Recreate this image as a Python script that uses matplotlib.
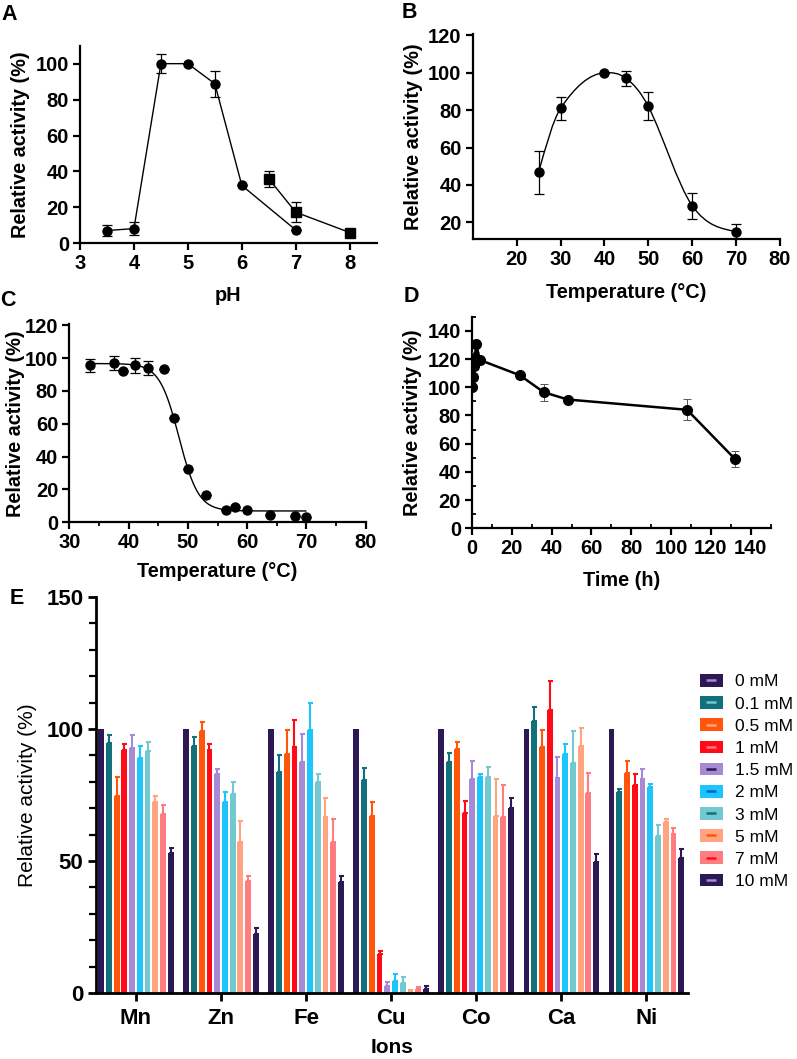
import numpy as np
import matplotlib
matplotlib.use("Agg")
import matplotlib.pyplot as plt
from matplotlib.path import Path
from matplotlib.patches import PathPatch, Patch
from matplotlib.lines import Line2D
from matplotlib.legend_handler import HandlerTuple
from matplotlib.ticker import MultipleLocator

plt.rcParams['font.family'] = ['Liberation Sans', 'DejaVu Sans']

# ---------------- Data ----------------
# Panel A: pH profile
ph_circ = [3.5, 4.0, 4.5, 5.0, 5.5, 6.0, 7.0]
act_circ = [7.1, 8.2, 100, 100, 88.8, 32.2, 7.4]
err_circ = [3.3, 3.4, 5.3, 0, 7.3, 0, 0]
ph_sq = [6.5, 7.0, 8.0]
act_sq = [35.9, 17.3, 6.0]
err_sq = [4.5, 5.6, 0]

# Panel B: temperature optimum
temp_b = [25, 30, 40, 45, 50, 60, 70]
act_b = [46.8, 80.9, 100, 97.0, 82.0, 28.9, 15.0]
err_b = [11.6, 6.2, 0, 4.1, 7.5, 7.0, 4.1]

# Panel C: thermal stability
temp_c = [33.5, 37.6, 39.1, 41.0, 43.3, 45.9, 47.6, 50.0, 53.1, 56.4, 58.0, 60.0, 63.8, 68.0, 69.9]
act_c = [95.6, 97.0, 92.1, 95.6, 94.0, 93.6, 63.7, 32.5, 16.7, 7.5, 9.2, 7.3, 4.5, 3.9, 3.3]
err_c = [4.0, 4.0, 0, 4.5, 4.5, 0, 0, 0, 0, 0, 0, 0, 0, 0, 0]
fit_top, fit_bottom, fit_v50, fit_slope = 96.7, 6.9, 48.5, 1.64

# Panel D: stability over time
time_d = [0, 0.5, 1, 1.5, 2, 4, 24, 36, 48, 108, 132]
act_d = [100, 107.3, 115, 121, 130.5, 119.3, 108.5, 96.5, 91.3, 84.0, 49.2]
err_d = [0, 3, 3, 4, 0, 0, 2.3, 6.0, 0, 7.4, 5.4]

# Panel E: metal ions
ions = ['Mn', 'Zn', 'Fe', 'Cu', 'Co', 'Ca', 'Ni']
conc_labels = ['0 mM', '0.1 mM', '0.5 mM', '1 mM', '1.5 mM', '2 mM', '3 mM', '5 mM', '7 mM', '10 mM']
mn = [100, 94.8, 74.6, 92.0, 92.9, 89.0, 91.5, 72.5, 67.7, 53.1]
zn = [100, 93.5, 99.3, 91.9, 82.8, 72.3, 75.2, 57.1, 42.3, 22.3]
fe = [100, 83.9, 90.4, 93.3, 87.5, 99.6, 79.9, 66.7, 57.1, 41.9]
cu = [100, 80.5, 67.0, 14.7, 2.7, 4.7, 3.9, 0.6, 1.6, 1.4]
co = [100, 87.5, 92.3, 68.0, 80.9, 81.8, 82.0, 67.2, 66.6, 70.1]
ca = [100, 103.2, 93.0, 107.2, 81.4, 90.6, 87.0, 93.4, 75.6, 49.5]
ni = [100, 76.2, 83.4, 78.7, 80.9, 78.1, 59.6, 64.7, 60.3, 51.0]
mn_err = [0, 2.9, 7.3, 2.3, 5.0, 4.5, 3.5, 2.2, 3.7, 1.9]
zn_err = [0, 3.5, 3.5, 2.3, 1.9, 3.9, 4.7, 8.0, 1.9, 2.5]
fe_err = [0, 6.1, 9.2, 10.1, 10.6, 10.2, 3.2, 7.2, 8.8, 2.5]
cu_err = [0, 4.6, 5.3, 1.3, 1.3, 2.4, 2.0, 0.5, 0.8, 1.4]
co_err = [0, 3.5, 2.9, 4.7, 7.1, 1.0, 3.7, 14.0, 12.0, 3.7]
ca_err = [0, 5.3, 6.6, 10.8, 8.1, 3.8, 12.4, 7.0, 7.6, 3.2]
ni_err = [0, 1.2, 4.6, 4.1, 3.9, 1.2, 4.1, 1.3, 2.3, 3.4]

bar_colors = ['#2c1852', '#12707a', '#ff560c', '#ff0a16', '#a68ad6',
              '#1cc6fc', '#72c9d0', '#ffa47e', '#ff7c80', '#2c1852']
dash_colors = ['#a68ad6', '#72c9d0', '#ffa47e', '#ff7c80', '#2c1852',
               '#1060d0', '#12707a', '#ff560c', '#ff0a16', '#a68ad6']

# ---------------- Figure ----------------
fig = plt.figure(figsize=(7.97, 10.59), dpi=100)
W, H = 797.0, 1059.0

def ax_at(x0, y0, x1, y1):
    return fig.add_axes([x0 / W, 1 - y1 / H, (x1 - x0) / W, (y1 - y0) / H])

TICK_FS = 14.5
LAB_FS = 14.3

def style(ax, lw=1.6):
    for s in ['top', 'right']:
        ax.spines[s].set_visible(False)
    for s in ['left', 'bottom']:
        ax.spines[s].set_linewidth(lw)
    ax.tick_params(which='major', width=lw, length=5, labelsize=TICK_FS, pad=3)
    ax.tick_params(which='minor', width=lw * 0.8, length=3)
    for t in ax.get_xticklabels() + ax.get_yticklabels():
        t.set_fontweight('bold')

def errplot(ax, x, y, e, **kw):
    ax.errorbar(x, y, yerr=e, fmt='o', color='black', ms=6.5, capsize=3.5,
                elinewidth=0.9, capthick=0.9, zorder=3, **kw)

# ---- Panel A ----
axA = ax_at(80, 45.7, 376.7, 243.3)
axA.plot(ph_circ, act_circ, color='black', lw=1.0)
axA.plot(ph_sq, act_sq, color='black', lw=1.0)
errplot(axA, ph_circ, act_circ, err_circ)
axA.errorbar(ph_sq, act_sq, yerr=err_sq, fmt='s', color='black', ms=6.5, capsize=3.5,
             elinewidth=0.9, capthick=0.9, zorder=3)
axA.set_xlim(3, 8.5)
axA.set_ylim(0, 110)
axA.set_xticks([3, 4, 5, 6, 7, 8])
axA.set_yticks([0, 20, 40, 60, 80, 100])
style(axA)
axA.set_ylabel('Relative activity (%)', fontsize=LAB_FS, fontweight='bold', labelpad=4)
axA.set_xlabel('pH', fontsize=LAB_FS, fontweight='bold', labelpad=9)

# ---- Panel B ----
axB = ax_at(472.7, 34.3, 780, 239.3)
xb = np.array(temp_b, float)
yb = np.array(act_b, float)
n = len(xb)
m = np.zeros(n)
for i in range(n):
    if i == 0:
        m[i] = (yb[1] - yb[0]) / (xb[1] - xb[0]) * 1.2
    elif i == n - 1:
        m[i] = (yb[-1] - yb[-2]) / (xb[-1] - xb[-2]) * 0.35
    else:
        m[i] = (yb[i + 1] - yb[i - 1]) / (xb[i + 1] - xb[i - 1])
m[2] = 0.15
verts = [(xb[0], yb[0])]
codes = [Path.MOVETO]
for i in range(n - 1):
    h = xb[i + 1] - xb[i]
    verts += [(xb[i] + h / 3, yb[i] + m[i] * h / 3),
              (xb[i + 1] - h / 3, yb[i + 1] - m[i + 1] * h / 3),
              (xb[i + 1], yb[i + 1])]
    codes += [Path.CURVE4] * 3
axB.add_patch(PathPatch(Path(verts, codes), facecolor='none', edgecolor='black', lw=1.0))
errplot(axB, temp_b, act_b, err_b)
axB.set_xlim(10, 80)
axB.set_ylim(10.9, 120.6)
axB.set_xticks([20, 30, 40, 50, 60, 70, 80])
axB.set_yticks([20, 40, 60, 80, 100, 120])
style(axB)
axB.set_ylabel('Relative activity (%)', fontsize=LAB_FS, fontweight='bold', labelpad=4)
axB.set_xlabel('Temperature (°C)', fontsize=LAB_FS, fontweight='bold', labelpad=10)

# ---- Panel C ----
axC = ax_at(69.3, 324.3, 365.7, 522.3)
xc = np.linspace(temp_c[0], temp_c[-1], 300)
yc = fit_bottom + (fit_top - fit_bottom) / (1 + np.exp((xc - fit_v50) / fit_slope))
axC.plot(xc, yc, color='black', lw=1.0)
errplot(axC, temp_c, act_c, err_c)
axC.set_xlim(30, 80)
axC.set_ylim(0, 120.6)
axC.set_xticks([30, 40, 50, 60, 70, 80])
axC.xaxis.set_minor_locator(MultipleLocator(5))
axC.set_yticks([0, 20, 40, 60, 80, 100, 120])
style(axC)
axC.set_ylabel('Relative activity (%)', fontsize=LAB_FS, fontweight='bold', labelpad=0)
axC.set_xlabel('Temperature (°C)', fontsize=LAB_FS, fontweight='bold', labelpad=7)

# ---- Panel D ----
axD = ax_at(472, 316.7, 770.7, 528.3)
axD.errorbar(time_d, act_d, yerr=err_d, fmt='-o', color='black', ms=7, lw=1.8,
             capsize=3, elinewidth=0.7, capthick=0.7, ecolor='#555555', zorder=3)
axD.set_xlim(0, 150)
axD.set_ylim(0, 150)
axD.set_xticks([0, 20, 40, 60, 80, 100, 120, 140])
axD.set_yticks([0, 20, 40, 60, 80, 100, 120, 140])
axD.xaxis.set_minor_locator(MultipleLocator(10))
axD.yaxis.set_minor_locator(MultipleLocator(10))
style(axD)
axD.tick_params(which='minor', direction='in')
axD.set_ylabel('Relative activity (%)', fontsize=LAB_FS, fontweight='bold', labelpad=4)
axD.set_xlabel('Time (h)', fontsize=LAB_FS, fontweight='bold', labelpad=9)

# ---- Panel E ----
axE = ax_at(96, 597, 688, 993)
vals = [mn, zn, fe, cu, co, ca, ni]
errs = [mn_err, zn_err, fe_err, cu_err, co_err, ca_err, ni_err]
step = 0.091
bw = 0.068
xg = np.arange(len(ions))
for j, lab in enumerate(conc_labels):
    xs = xg + (j - 4.5) * step
    ys = [v[j] for v in vals]
    es = [e[j] for e in errs]
    axE.bar(xs, ys, width=bw, color=bar_colors[j], label=lab, zorder=2)
    if j > 0:
        axE.errorbar(xs, ys, yerr=[np.zeros(len(es)), es], fmt='none',
                     ecolor=bar_colors[j], elinewidth=1.5, capsize=1.8,
                     capthick=1.5, zorder=2)
axE.set_xlim(-0.47, 6.49)
axE.set_ylim(0, 150)
axE.set_xticks(xg)
axE.set_xticklabels(ions)
axE.set_yticks([0, 50, 100, 150])
axE.yaxis.set_minor_locator(MultipleLocator(10))
style(axE, lw=2.0)
axE.tick_params(which='major', labelsize=16, length=6)
axE.tick_params(axis='x', which='major', pad=5)
axE.tick_params(which='minor', length=5)
for t in axE.get_xticklabels() + axE.get_yticklabels():
    t.set_fontweight('bold')
axE.set_ylabel('Relative activity (%)', fontsize=15, labelpad=7)
axE.set_xlabel('Ions', fontsize=15, fontweight='bold', labelpad=6)

handles = []
for j in range(len(conc_labels)):
    p = Patch(facecolor=bar_colors[j], edgecolor='none')
    d = Line2D([], [], marker='_', color=dash_colors[j], linestyle='none',
               markersize=7, markeredgewidth=1.8)
    handles.append((p, d))
fig.legend(handles, conc_labels, handler_map={tuple: HandlerTuple(ndivide=1)},
           loc='upper left', bbox_to_anchor=(700 / W, 1 - 674 / H), frameon=False,
           fontsize=12.5, handlelength=1.3, handleheight=0.75, labelspacing=0.39,
           handletextpad=0.7, borderaxespad=0, borderpad=0)

# Panel letters
for lab, x, y in [('A', 9, 14), ('B', 409, 13), ('C', 8, 300), ('D', 411, 297), ('E', 17, 598)]:
    fig.text(x / W, 1 - y / H, lab, fontsize=15.5, fontweight='bold', ha='center', va='center')

fig.savefig('out.png', dpi=100)
